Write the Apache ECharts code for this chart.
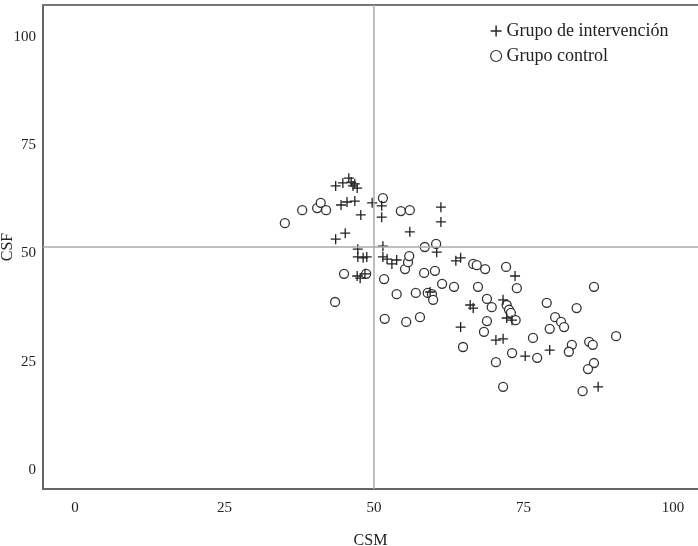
<!DOCTYPE html>
<html>
<head>
<meta charset="utf-8">
<script src="https://cdn.jsdelivr.net/npm/echarts@6/dist/echarts.min.js"></script>
<style>
html,body{margin:0;padding:0;background:#fff;}
#chart{width:698px;height:546px;}
</style>
</head>
<body>
<div id="chart"></div>
<script>
// Data
var interventionCSM = [43.6,44.8,45.8,46.2,46.5,47.2,46.8,44.5,45.5,46.8,47.8,49.7,51.3,51.3,56.0,61.2,61.2,43.6,45.2,47.3,47.3,48.2,48.8,51.5,51.5,52.2,53.0,53.8,47.2,47.7,48.5,60.5,63.7,64.5,73.6,59.4,66.1,66.6,71.6,72.2,73.1,64.5,70.4,71.6,75.3,79.4,87.5];
var interventionCSF = [65.6,66.3,67.4,66.5,65.6,65.1,66.1,61.2,61.9,62.1,58.9,61.7,61.0,58.4,55.0,60.7,57.3,53.3,54.7,51.0,49.2,49.0,49.2,51.7,49.2,48.7,47.6,48.5,44.8,44.3,45.3,50.3,48.3,49.0,44.8,41.1,38.1,37.4,39.3,35.1,34.6,33.0,30.0,30.3,26.3,27.7,19.2];
var controlCSM = [35.1,38.0,40.5,41.1,42.0,51.5,54.5,56.0,58.5,60.4,58.4,60.2,66.6,67.2,68.6,72.1,45.0,48.7,51.7,55.2,55.7,55.9,43.5,53.8,57.0,59.0,51.8,55.4,57.7,61.4,63.4,67.4,59.7,59.9,68.9,69.7,72.2,72.6,72.9,73.9,73.7,68.9,68.4,64.9,70.4,73.1,76.6,77.3,71.6,86.8,78.9,83.9,80.3,81.3,81.8,79.4,90.5,83.1,82.6,86.0,86.6,86.8,85.8,84.9];
var controlCSF = [57.0,60.0,60.5,61.7,60.0,62.8,59.8,60.0,51.5,52.2,45.5,46.0,47.6,47.3,46.4,46.9,45.3,45.3,44.1,46.4,48.0,49.4,38.8,40.6,40.9,40.9,34.9,34.2,35.3,43.0,42.3,42.3,40.6,39.3,39.5,37.6,38.1,37.0,36.3,42.0,34.6,34.4,31.9,28.4,24.9,27.0,30.5,25.9,19.2,42.3,38.6,37.4,35.3,34.2,33.0,32.6,30.9,28.9,27.3,29.6,28.9,24.7,23.3,18.2];
var tickValues = [0, 25, 50, 75, 100];
var refCSM = 50;
var refCSF = 51.6;
var seriesNames = ['Grupo de intervención', 'Grupo control'];

function zip(a, b) { return a.map(function (v, i) { return [v, b[i]]; }); }

var plusPath = 'path://M4.35,0H5.65V4.35H10V5.65H5.65V10H4.35V5.65H0V4.35H4.35Z';
var FONT = '"Liberation Serif", "Times New Roman", serif';

var chart = echarts.init(document.getElementById('chart'), null, {renderer: 'canvas'});
chart.setOption({
  animation: false,
  backgroundColor: '#fff',
  grid: {left: 43, right: 0, top: 5, bottom: 57, containLabel: false, outerBoundsMode: 'none'},
  legend: {
    orient: 'vertical',
    left: 485, top: 17,
    itemWidth: 11, itemHeight: 11, itemGap: 7,
    textStyle: {fontFamily: FONT, fontSize: 18, color: '#222'},
    data: [
      {name: seriesNames[0], icon: plusPath, itemStyle: {color: '#222'}},
      {name: seriesNames[1], icon: 'circle', itemStyle: {color: '#fff', borderColor: '#333', borderWidth: 1.2}}
    ]
  },
  xAxis: [{
    type: 'value', position: 'bottom', min: -5.35, max: 104.2,
    name: 'CSM', nameLocation: 'middle', nameGap: 44, nameMoveOverlap: false,
    nameTextStyle: {fontFamily: FONT, fontSize: 16, color: '#222'},
    axisLine: {show: true, onZero: false, lineStyle: {color: '#666', width: 2}},
    axisTick: {show: false},
    splitLine: {show: false},
    axisLabel: {customValues: tickValues, margin: 12, fontFamily: FONT, fontSize: 15, color: '#222'}
  }, {
    type: 'value', position: 'top', min: -5.35, max: 104.2,
    axisLine: {show: true, onZero: false, lineStyle: {color: '#777', width: 2}},
    axisTick: {show: false}, splitLine: {show: false}, axisLabel: {show: false}
  }],
  yAxis: {
    type: 'value', min: -4.4, max: 107.4,
    name: 'CSF', nameLocation: 'middle', nameGap: 27, nameMoveOverlap: false,
    nameTextStyle: {fontFamily: FONT, fontSize: 16, color: '#222'},
    axisLine: {show: true, onZero: false, lineStyle: {color: '#666', width: 2}},
    axisTick: {show: false},
    splitLine: {show: false},
    axisLabel: {customValues: tickValues, margin: 7, fontFamily: FONT, fontSize: 15, color: '#222'}
  },
  series: [{
    name: seriesNames[0], type: 'scatter', xAxisIndex: 0,
    symbol: plusPath, symbolSize: 10,
    itemStyle: {color: '#222', opacity: 1},
    data: zip(interventionCSM, interventionCSF),
    markLine: {
      silent: true, symbol: 'none', animation: false,
      label: {show: false},
      lineStyle: {color: '#aaa', width: 1.5, type: 'solid'},
      data: [{xAxis: refCSM}, {yAxis: refCSF}]
    },
    z: 3
  }, {
    name: seriesNames[1], type: 'scatter', xAxisIndex: 0,
    symbol: 'circle', symbolSize: 9,
    itemStyle: {color: '#fff', borderColor: '#333', borderWidth: 1.3, opacity: 1},
    data: zip(controlCSM, controlCSF),
    z: 2
  }]
});
</script>
</body>
</html>
